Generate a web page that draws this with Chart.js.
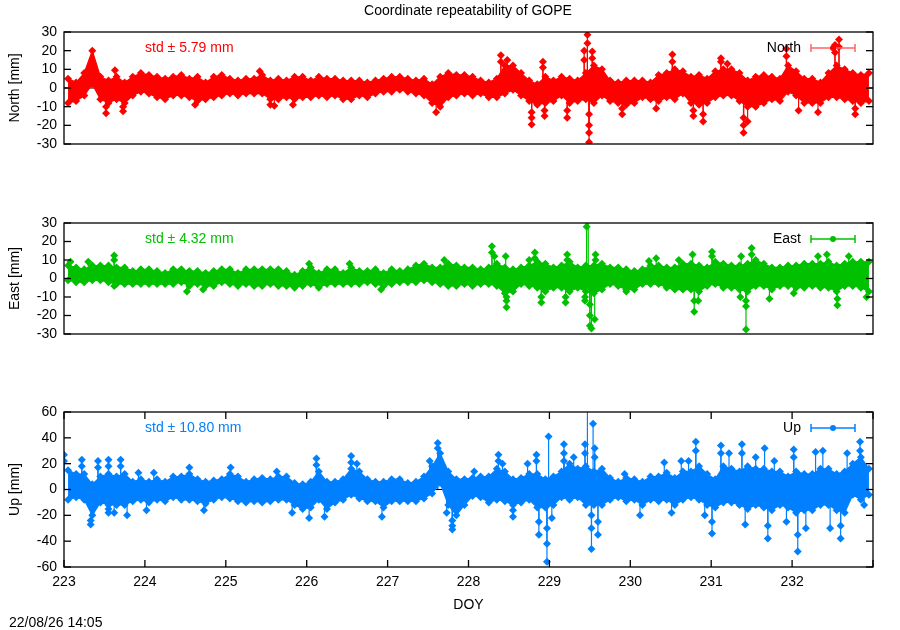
<!DOCTYPE html>
<html>
<head>
<meta charset="utf-8">
<title>Coordinate repeatability of GOPE</title>
<script src="https://cdn.jsdelivr.net/npm/chart.js@4.4.0/dist/chart.umd.min.js"></script>
<style>
  body { margin: 0; background: #fff; }
  #wrap { position: relative; width: 900px; height: 630px; font-family: "Liberation Sans", Arial, sans-serif; }
  #wrap canvas { position: absolute; left: 0; top: 0; }
  .txt { position: absolute; font-size: 14px; line-height: 16px; color: #000; white-space: nowrap; }
</style>
</head>
<body>
<div id="wrap">
  <canvas id="pNorth" width="900" height="630"></canvas>
  <canvas id="pEast" width="900" height="630"></canvas>
  <canvas id="pUp" width="900" height="630"></canvas>
  <div class="txt" style="left:0; width:936px; text-align:center; top:2px;">Coordinate repeatability of GOPE</div>
  <div class="txt" style="left:9px; top:614px;">22/08/26 14:05</div>
</div>
<script>
// bins of 0.1 day, first bin centred on DOY 223.05
var binStart = 223.05, binStep = 0.1;

// North [mm] : top / bottom of the dense part of the cloud in each bin
var northHi = [5, 3, 8, 20, 6, 4, 6, 3, 6, 8,
  7, 6, 5, 6, 7, 5, 6, 3, 6, 7,
  5, 4, 5, 5, 7, 4, 5, 4, 6, 6,
  4, 6, 5, 5, 4, 4, 4, 3, 4, 5,
  6, 6, 5, 4, 5, 2, 6, 8, 7, 7,
  6, 4, 3, 5, 12, 12, 8, 4, 2, 6,
  4, 6, 5, 4, 8, 12, 10, 4, 3, 4,
  4, 4, 3, 7, 8, 10, 9, 6, 7, 5,
  9, 10, 10, 8, 4, 6, 7, 6, 5, 12,
  9, 5, 5, 3, 8, 12, 10, 8, 7, 8];
var northLo = [-8, -7, -4, 2, -6, -8, -6, -8, -4, -2,
  -3, -5, -6, -4, -4, -5, -7, -6, -5, -4,
  -3, -4, -3, -3, -3, -6, -6, -5, -6, -5,
  -5, -4, -5, -4, -6, -6, -4, -5, -3, -2,
  -2, -1, -2, -3, -4, -8, -10, -5, -4, -3,
  -4, -3, -5, -5, -3, -1, -4, -7, -9, -8,
  -7, -4, -8, -7, -6, -8, -4, -7, -8, -9,
  -8, -5, -6, -7, -5, -6, -3, -8, -9, -8,
  -5, -4, -4, -7, -10, -10, -8, -6, -7, -2,
  -4, -8, -8, -8, -5, -5, -6, -7, -8, -7];
// isolated points and spikes [DOY, mm]
var northOut = [[223.52, -10], [223.52, -13.5], [223.63, 9.5], [223.73, -10], [223.73, -12.5],
  [224.62, -9], [225.42, 9], [225.55, -9], [225.60, -9.5], [225.83, -9], [227.60, -13],
  [228.40, 14], [228.40, 17.5], [228.48, 15], [228.78, -13], [228.78, -16], [228.78, -19.5],
  [228.92, 11], [228.92, 14], [228.94, -12], [228.94, -15], [229.22, -12], [229.22, -16],
  [229.43, 15], [229.43, 20], [229.47, 24], [229.47, 28.5], [229.49, -14], [229.49, -20],
  [229.49, -24], [229.49, -29], [229.53, 16], [229.53, 19.5], [229.90, -11], [229.90, -14],
  [230.32, -11], [230.52, 14], [230.52, 18], [230.78, -12], [230.78, -15], [230.90, -14],
  [230.90, -18], [231.12, 14], [231.12, 16], [231.20, 13], [231.40, -16], [231.40, -20],
  [231.40, -24], [231.45, -18], [231.93, 17], [231.93, 21], [232.08, -12], [232.32, -13],
  [232.53, 19], [232.53, 23], [232.58, 22], [232.58, 26], [232.78, -11], [232.78, -14]];

// East [mm]
var eastHi = [7, 6, 5, 7, 7, 7, 6, 6, 4, 5,
  5, 4, 3, 5, 5, 4, 4, 3, 4, 5,
  5, 3, 5, 5, 5, 5, 5, 4, 2, 4,
  6, 3, 5, 5, 3, 6, 4, 4, 5, 3,
  5, 4, 5, 7, 8, 6, 6, 8, 7, 6,
  6, 5, 6, 8, 6, 5, 6, 7, 9, 8,
  6, 7, 9, 6, 7, 7, 8, 6, 6, 5,
  4, 5, 7, 7, 6, 6, 8, 8, 7, 6,
  9, 8, 7, 7, 8, 10, 8, 6, 6, 7,
  7, 8, 8, 8, 9, 7, 8, 9, 9, 9];
var eastLo = [-1, -2, -2, -1, -1, -2, -3, -3, -3, -3,
  -3, -3, -3, -3, -2, -4, -3, -4, -4, -2,
  -3, -4, -3, -4, -4, -3, -4, -4, -5, -4,
  -3, -5, -3, -3, -3, -3, -3, -2, -3, -4,
  -3, -2, -2, -2, -1, -2, -3, -4, -4, -3,
  -4, -3, -3, -4, -8, -7, -3, -4, -5, -7,
  -5, -5, -7, -5, -7, -8, -6, -3, -4, -6,
  -6, -3, -3, -3, -5, -6, -6, -6, -7, -4,
  -3, -5, -5, -6, -7, -4, -4, -6, -4, -4,
  -5, -5, -4, -5, -5, -7, -4, -4, -5, -7];
var eastOut = [[223.08, 9], [223.30, 9], [223.62, 10], [223.62, 12.5], [223.62, -4],
  [224.52, -7], [224.72, -6], [226.03, 8], [226.53, 8], [226.92, -6], [227.70, 10],
  [228.29, 14], [228.29, 17.5], [228.32, 12], [228.46, 12], [228.47, -10], [228.47, -12],
  [228.47, -15.5], [228.75, 10], [228.82, 11], [228.82, 14], [228.90, -10], [228.90, -13],
  [229.20, -10], [229.20, -13], [229.22, 10], [229.22, 13], [229.44, -10], [229.44, -12],
  [229.46, 28], [229.48, 40], [229.50, -14], [229.50, -20], [229.50, -25.5], [229.52, -27],
  [229.56, -22], [229.57, 10], [229.57, 13], [229.95, -7], [230.23, 9.5], [230.32, 11],
  [230.60, 10], [230.77, 13], [230.79, -12], [230.79, -18], [230.84, -12], [231.01, 12],
  [231.01, 14.5], [231.36, -10], [231.37, 12], [231.43, -12], [231.43, -15], [231.43, -27.5],
  [231.50, 13], [231.50, 16.5], [231.72, -11], [232.02, -8], [232.32, 12], [232.43, 13],
  [232.56, -11], [232.56, -14.5], [232.70, 12], [232.92, -10]];

// Up [mm]
var upHi = [15, 12, 12, 4, 10, 12, 10, 12, 6, 8,
  6, 8, 6, 10, 10, 12, 8, 6, 7, 8,
  12, 10, 6, 8, 9, 8, 10, 10, 5, 4,
  6, 14, 6, 6, 8, 16, 14, 8, 6, 6,
  8, 8, 5, 6, 10, 18, 28, 14, 8, 8,
  9, 10, 10, 16, 14, 8, 9, 12, 12, 8,
  10, 14, 20, 16, 18, 14, 16, 9, 6, 9,
  8, 6, 10, 10, 13, 9, 14, 14, 18, 12,
  8, 18, 16, 14, 18, 16, 16, 14, 14, 10,
  14, 12, 12, 16, 16, 12, 14, 20, 25, 16];
var upLo = [-8, -6, -8, -20, -10, -12, -12, -12, -9, -8,
  -10, -8, -9, -6, -8, -8, -9, -11, -8, -6,
  -7, -9, -10, -9, -10, -9, -8, -8, -12, -15,
  -14, -8, -15, -10, -8, -4, -7, -9, -9, -14,
  -9, -9, -9, -9, -7, -3, 5, -12, -20, -12,
  -5, -6, -10, -8, -9, -12, -10, -8, -14, -14,
  -12, -6, -8, -6, -12, -12, -12, -8, -6, -9,
  -8, -12, -8, -9, -8, -12, -8, -6, -8, -12,
  -14, -10, -10, -12, -15, -12, -14, -16, -12, -14,
  -18, -16, -16, -12, -12, -16, -18, -4, -8, -4];
var upOut = [[223.00, 22], [223.00, 27], [223.22, 18], [223.22, 23], [223.33, -24], [223.33, -27],
  [223.42, 17], [223.42, 22], [223.55, 18], [223.55, 23], [223.55, -15], [223.55, -18],
  [223.62, -18], [223.70, 18], [223.70, 23], [223.78, -20], [223.92, 13], [224.02, -16],
  [224.11, 13], [224.55, 17], [224.73, -16], [225.06, 17], [225.63, 14], [225.82, -18],
  [226.03, -22], [226.12, 19], [226.12, 24], [226.22, -21], [226.55, 21], [226.55, 26],
  [226.62, 20], [226.93, -21], [227.52, 22], [227.62, 32], [227.62, 36], [227.73, -18],
  [227.80, -24], [227.80, -28], [227.80, -31], [228.07, 14], [228.37, 22], [228.37, 27],
  [228.42, 20], [228.55, -16], [228.55, -21], [228.73, 20], [228.84, 22], [228.84, 27],
  [228.87, -25], [228.87, -35], [228.97, -30], [228.97, -42], [228.97, -56], [228.99, 41],
  [229.03, -22], [229.18, 22], [229.18, 28], [229.18, 35], [229.30, 25], [229.44, 28],
  [229.44, 35], [229.47, 75], [229.52, -20], [229.52, -30], [229.52, -46], [229.54, 51],
  [229.56, 25], [229.56, 32], [229.60, -25], [229.60, -35], [229.93, 12], [230.12, -20],
  [230.42, 21], [230.51, -18], [230.63, 22], [230.72, 22], [230.81, 30], [230.81, 37],
  [230.92, -20], [231.01, -25], [231.01, -34], [231.12, 28], [231.12, 34], [231.22, 28],
  [231.38, 28], [231.38, 35], [231.42, -27], [231.55, 25], [231.66, 32], [231.70, -28],
  [231.70, -38], [231.78, 22], [231.93, -25], [232.02, 25], [232.02, 31], [232.07, -35],
  [232.07, -48], [232.17, -30], [232.29, 29], [232.38, 30], [232.47, -30], [232.60, -28],
  [232.60, -38], [232.68, 28], [232.84, 30], [232.84, 37], [232.89, -12]];

// thin black reference line under the points
var zeroX = [223, 233];
var zeroY = [0, 0];

var doy = northHi.map(function (v, i) { return +(binStart + i * binStep).toFixed(2); });

Chart.defaults.font.family = '"Liberation Sans", Arial, sans-serif';
Chart.defaults.font.size = 14;
Chart.defaults.color = '#000';

function pts(xs, ys) {
  return ys.map(function (v, i) { return { x: xs[i], y: v }; });
}
function pairs(list) {
  return list.map(function (p) { return { x: p[0], y: p[1] }; });
}

// gnuplot style frame, inward tics, key and std label
var gnuFrame = {
  id: 'gnuFrame',
  beforeDatasetsDraw: function (chart) {
    var ctx = chart.ctx, a = chart.chartArea;
    var y0 = chart.scales.y.getPixelForValue(0);
    chart.data.datasets.forEach(function (ds, i) {
      if (!ds.stems) return;
      var meta = chart.getDatasetMeta(i);
      ctx.save();
      ctx.beginPath();
      ctx.rect(a.left, a.top, a.right - a.left, a.bottom - a.top);
      ctx.clip();
      ctx.strokeStyle = ds.borderColor;
      ctx.lineWidth = 1.2;
      meta.data.forEach(function (p) {
        ctx.beginPath();
        ctx.moveTo(p.x, y0);
        ctx.lineTo(p.x, p.y);
        ctx.stroke();
      });
      ctx.restore();
    });
  },
  afterDatasetsDraw: function (chart) {
    var ctx = chart.ctx, a = chart.chartArea;
    var o = chart.options.plugins.gnuFrame;
    var ys = chart.scales.y, xs = chart.scales.x;
    ctx.save();
    ctx.strokeStyle = '#000';
    ctx.lineWidth = 1.3;
    function seg(x1, y1, x2, y2) {
      ctx.beginPath(); ctx.moveTo(x1, y1); ctx.lineTo(x2, y2); ctx.stroke();
    }
    ys.ticks.forEach(function (t) {
      var py = ys.getPixelForValue(t.value);
      seg(a.left, py, a.left + 7, py);
      seg(a.right - 7, py, a.right, py);
    });
    if (o.xTics) {
      xs.ticks.forEach(function (t) {
        var px = xs.getPixelForValue(t.value);
        seg(px, a.bottom, px, a.bottom - 7);
        seg(px, a.top, px, a.top + 7);
      });
    }
    ctx.strokeRect(a.left, a.top, a.right - a.left, a.bottom - a.top);

    var ky = a.top + 16;
    ctx.font = '14px "Liberation Sans", Arial, sans-serif';
    ctx.textBaseline = 'middle';
    ctx.textAlign = 'left';
    ctx.fillStyle = o.color;
    ctx.fillText(o.std, 145, ky);

    ctx.textAlign = 'right';
    ctx.fillStyle = '#000';
    ctx.fillText(o.key, a.right - 72, ky);
    var x1 = a.right - 62, x2 = a.right - 18;
    ctx.strokeStyle = o.keyColor;
    ctx.lineWidth = 1.5;
    seg(x1, ky, x2, ky);
    seg(x1, ky - 4, x1, ky + 4);
    seg(x2, ky - 4, x2, ky + 4);
    ctx.fillStyle = o.color;
    ctx.beginPath();
    ctx.arc((x1 + x2) / 2, ky, 3, 0, Math.PI * 2);
    ctx.fill();
    ctx.restore();
  }
};

function makePanel(id, p) {
  var ctx = document.getElementById(id).getContext('2d');
  var pointOpts = {
    borderColor: p.color,
    backgroundColor: p.color,
    borderWidth: 1.2,
    pointStyle: 'rectRot',
    pointRadius: 4,
    pointBorderWidth: 0,
    pointHoverRadius: 4
  };
  return new Chart(ctx, {
    type: 'line',
    data: {
      datasets: [
        Object.assign({ label: p.key, data: pts(doy, p.hi), fill: '+1', order: 1 }, pointOpts),
        Object.assign({ label: p.key, data: pts(doy, p.lo), fill: false, order: 1 }, pointOpts),
        Object.assign({ label: p.key, data: pairs(p.out), showLine: false, stems: true, order: 0 }, pointOpts),
        { label: 'ref', data: pts(zeroX, zeroY), borderColor: '#000', borderWidth: 1, pointRadius: 0, fill: false, order: 5 }
      ]
    },
    options: {
      responsive: false,
      animation: false,
      events: [],
      layout: { padding: { left: 0, right: 27, top: p.top, bottom: p.bottom } },
      plugins: {
        legend: { display: false },
        tooltip: { enabled: false },
        gnuFrame: { color: p.color, keyColor: p.keyColor, key: p.key, std: p.std, xTics: p.xTics }
      },
      scales: {
        x: {
          type: 'linear',
          display: p.xTics,
          min: 223,
          max: 233,
          grid: { display: false, drawTicks: false },
          border: { display: false },
          ticks: {
            stepSize: 1,
            autoSkip: false,
            maxRotation: 0,
            padding: 7,
            callback: function (v) { return v === 233 ? '' : v; }
          },
          title: { display: true, text: 'DOY', padding: { top: 0, bottom: 1 } },
          afterFit: function (axis) { axis.height = 48; }
        },
        y: {
          min: -p.range,
          max: p.range,
          grid: { display: false, drawTicks: false },
          border: { display: false },
          ticks: { stepSize: p.step, padding: 7, autoSkip: false },
          title: { display: true, text: p.title, padding: { top: 7, bottom: 0 } },
          afterFit: function (axis) { axis.width = 64; }
        }
      }
    },
    plugins: [gnuFrame]
  });
}

makePanel('pNorth', {
  key: 'North', title: 'North [mm]', std: 'std \u00b1 5.79 mm',
  color: '#ff0000', keyColor: '#ff6060',
  hi: northHi, lo: northLo, out: northOut,
  range: 30, step: 10, top: 32, bottom: 438, xTics: false
});
makePanel('pEast', {
  key: 'East', title: 'East [mm]', std: 'std \u00b1 4.32 mm',
  color: '#00c000', keyColor: '#00c000',
  hi: eastHi, lo: eastLo, out: eastOut,
  range: 30, step: 10, top: 223, bottom: 248, xTics: false
});
makePanel('pUp', {
  key: 'Up', title: 'Up [mm]', std: 'std \u00b1 10.80 mm',
  color: '#0080ff', keyColor: '#0080ff',
  hi: upHi, lo: upLo, out: upOut,
  range: 60, step: 20, top: 412, bottom: 15, xTics: true
});
</script>
</body>
</html>
